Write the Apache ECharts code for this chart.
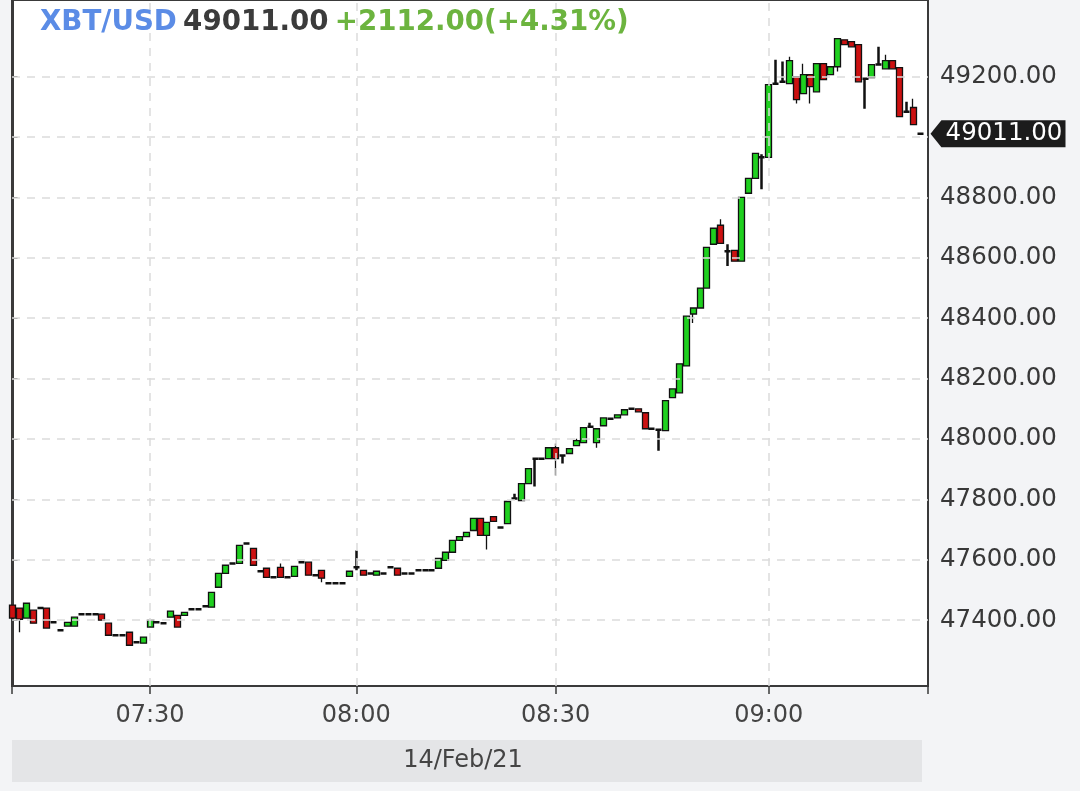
<!DOCTYPE html>
<html><head><meta charset="utf-8">
<script src="https://cdn.jsdelivr.net/npm/echarts@6/dist/echarts.min.js"></script>
<style>html,body{margin:0;padding:0;background:#f3f4f6;}#c{width:1080px;height:791px;}</style>
</head><body><div id="c"></div>
<script>
const symbolName = 'XBT/USD';
const lastPriceText = '49011.00';
const changeText = '+2112.00(+4.31%)';
const dateLabel = '14/Feb/21';
const tickLabels = ['07:30', '08:00', '08:30', '09:00'];
const tickCandles = [20, 50, 79, 110];
const priceTicks = [47400, 47600, 47800, 48000, 48200, 48400, 48600, 48800, 49000, 49200];

const opens = [47450,47440,47407,47433,47440,47440,47393,47367,47380,47380,
47420,47420,47420,47420,47390,47350,47350,47360,47327,47324,
47377,47393,47390,47410,47416,47416,47436,47436,47446,47443,
47509,47555,47588,47588,47654,47638,47562,47572,47542,47575,
47542,47545,47592,47592,47549,47565,47522,47522,47522,47545,
47575,47565,47555,47549,47555,47575,47572,47555,47555,47565,
47565,47565,47572,47598,47625,47664,47677,47697,47737,47681,
47743,47707,47720,47803,47796,47852,47935,47935,47935,47971,
47945,47952,47978,47988,48041,47988,48044,48067,48070,48080,
48100,48100,48087,48034,48031,48028,48137,48153,48242,48414,
48434,48500,48645,48708,48622,48625,48589,48814,48863,48933,
48933,49177,49183,49177,49200,49144,49207,49150,49243,49207,
49233,49322,49316,49306,49193,49197,49240,49226,49253,49230,
49084,49098,49011];
const closes = [47407,47403,47456,47390,47440,47374,47393,47367,47393,47410,
47420,47420,47420,47400,47350,47350,47350,47317,47327,47344,
47400,47393,47390,47430,47377,47426,47436,47436,47446,47492,
47555,47582,47588,47648,47654,47582,47562,47542,47542,47542,
47542,47578,47592,47549,47549,47539,47522,47522,47522,47562,
47575,47549,47555,47562,47555,47575,47549,47555,47555,47565,
47565,47565,47605,47625,47664,47677,47691,47737,47681,47724,
47727,47707,47793,47803,47852,47902,47935,47935,47971,47935,
47945,47968,47995,48038,48041,48034,48070,48067,48080,48097,
48100,48090,48034,48034,48031,48127,48166,48249,48407,48434,
48500,48635,48698,48648,48622,48589,48800,48863,48946,48933,
49174,49177,49183,49253,49124,49207,49167,49243,49190,49233,
49326,49306,49299,49183,49193,49240,49240,49253,49226,49068,
49084,49041,49011];
const lows = [47400,47360,47405,47388,47438,47372,47391,47365,47378,47378,
47418,47418,47418,47398,47348,47348,47348,47315,47325,47322,
47375,47391,47388,47408,47375,47414,47434,47434,47444,47441,
47507,47553,47586,47586,47652,47580,47560,47540,47540,47540,
47540,47543,47590,47547,47547,47526,47520,47520,47520,47543,
47565,47547,47553,47547,47553,47573,47547,47553,47553,47563,
47563,47563,47570,47596,47623,47662,47675,47695,47679,47634,
47725,47705,47718,47801,47794,47850,47843,47933,47933,47879,
47919,47950,47976,47986,48038,47971,48042,48065,48068,48078,
48098,48088,48032,48032,47961,48026,48135,48151,48240,48384,
48432,48498,48643,48646,48573,48587,48587,48812,48861,48827,
48931,49175,49181,49175,49111,49142,49111,49148,49188,49205,
49217,49304,49297,49181,49094,49195,49238,49224,49224,49066,
49082,49039,49009];
const highs = [47452,47442,47458,47435,47442,47442,47395,47369,47395,47412,
47422,47422,47422,47422,47392,47352,47352,47362,47329,47346,
47402,47395,47392,47432,47418,47428,47438,47438,47448,47494,
47557,47584,47590,47650,47656,47640,47564,47574,47544,47588,
47544,47580,47594,47594,47551,47567,47524,47524,47524,47564,
47631,47567,47557,47564,47557,47577,47574,47557,47557,47567,
47567,47567,47607,47627,47666,47679,47693,47739,47739,47726,
47745,47709,47795,47819,47854,47904,47937,47937,47973,47985,
47947,47970,48001,48040,48054,48036,48072,48069,48082,48099,
48102,48102,48089,48036,48033,48129,48168,48251,48409,48436,
48502,48637,48700,48728,48645,48627,48802,48865,48948,48943,
49176,49256,49250,49266,49202,49243,49209,49245,49245,49235,
49328,49324,49318,49308,49195,49242,49299,49273,49255,49232,
49117,49127,49013];

// style only: doji candles drawn with a thicker outline, like the reference
const candles = opens.map((o, i) => {
  const item = {value: [i, o, closes[i], lows[i], highs[i]]};
  if (o === closes[i]) item.itemStyle = {borderWidth: 2.5};
  return item;
});
const lastClose = closes[closes.length - 1];

const xMin = -0.073, xMax = 133.16;
const yMin = 47182, yMax = 49454;
const FONT = 'DejaVu Sans';

const chart = echarts.init(document.getElementById('c'), null, {renderer: 'canvas'});
chart.setOption({
  animation: false,
  backgroundColor: '#f3f4f6',
  textStyle: {fontFamily: FONT},
  title: {
    left: 40, top: 7, padding: 0,
    text: '{a|' + symbolName + '} {b|' + lastPriceText + '} {c|' + changeText + '}',
    textStyle: {
      rich: {
        a: {color: '#5b8ce6', fontSize: 27.7, fontWeight: 'bold', fontFamily: FONT, lineHeight: 32},
        b: {color: '#3b3b3b', fontSize: 27.7, fontWeight: 'bold', fontFamily: FONT, lineHeight: 32},
        c: {color: '#6cb43f', fontSize: 27.7, fontWeight: 'bold', fontFamily: FONT, lineHeight: 32}
      }
    }
  },
  grid: {left: 12, right: 152, top: -2, bottom: 105, show: true, backgroundColor: '#ffffff', borderColor: '#3a3a3a', borderWidth: 2},
  xAxis: {
    type: 'value', min: xMin, max: xMax,
    axisLine: {show: true, lineStyle: {color: '#3a3a3a', width: 2}},
    axisTick: {show: true, customValues: [xMin].concat(tickCandles, [xMax]), length: 8, lineStyle: {color: '#3a3a3a', width: 1.5}},
    axisLabel: {customValues: tickCandles, formatter: v => tickLabels[tickCandles.indexOf(Math.round(v))] || '', color: '#444', fontSize: 24, fontFamily: FONT, margin: 18},
    splitLine: {show: false}
  },
  yAxis: {
    type: 'value', position: 'right', min: yMin, max: yMax,
    axisLine: {show: true, lineStyle: {color: '#3a3a3a', width: 2}},
    axisTick: {show: true, customValues: priceTicks, length: 5, lineStyle: {color: '#3a3a3a'}},
    axisLabel: {customValues: priceTicks, formatter: v => v.toFixed(2), color: '#383838', fontSize: 24.5, fontFamily: FONT, margin: 12},
    splitLine: {show: false}
  },
  series: [
    {
      type: 'line', data: [], z: 1, silent: true,
      markLine: {
        silent: true, animation: false, symbol: ['none', 'none'], label: {show: false},
        lineStyle: {type: [8, 7], color: '#dcdcdc', width: 1.5},
        data: tickCandles.map(k => ({xAxis: k})).concat(priceTicks.map(v => ({yAxis: v})))
      }
    },
    {
      type: 'candlestick', z: 2,
      data: candles,
      dimensions: ['idx', 'open', 'close', 'lowest', 'highest'],
      encode: {x: 0, y: [1, 2, 3, 4]},
      barWidth: 6.5,
      itemStyle: {color: '#1fd01f', color0: '#cc1111', borderColor: '#111', borderColor0: '#111', borderColorDoji: '#111', borderWidth: 1.3},
      markPoint: {
        silent: true, animation: false,
        symbol: 'path://M0,13L11,0L136,0L136,26L11,26Z',
        symbolSize: [135, 27], symbolKeepAspect: false, symbolOffset: [70, 0],
        itemStyle: {color: '#1c1c1c'},
        label: {show: true, position: 'inside', offset: [6, 0], color: '#ffffff', fontSize: 24.5, fontFamily: FONT, formatter: lastPriceText},
        data: [{coord: [xMax, lastClose]}]
      }
    }
  ],
  graphic: [
    {type: 'rect', left: 12, top: 740, shape: {width: 910, height: 42}, style: {fill: '#e4e5e7'}, silent: true},
    {type: 'text', x: 463, y: 761, style: {text: dateLabel, fill: '#444', fontSize: 24, fontFamily: FONT, align: 'center', verticalAlign: 'middle', textAlign: 'center', textVerticalAlign: 'middle'}, silent: true}
  ]
});
</script>
</body></html>
